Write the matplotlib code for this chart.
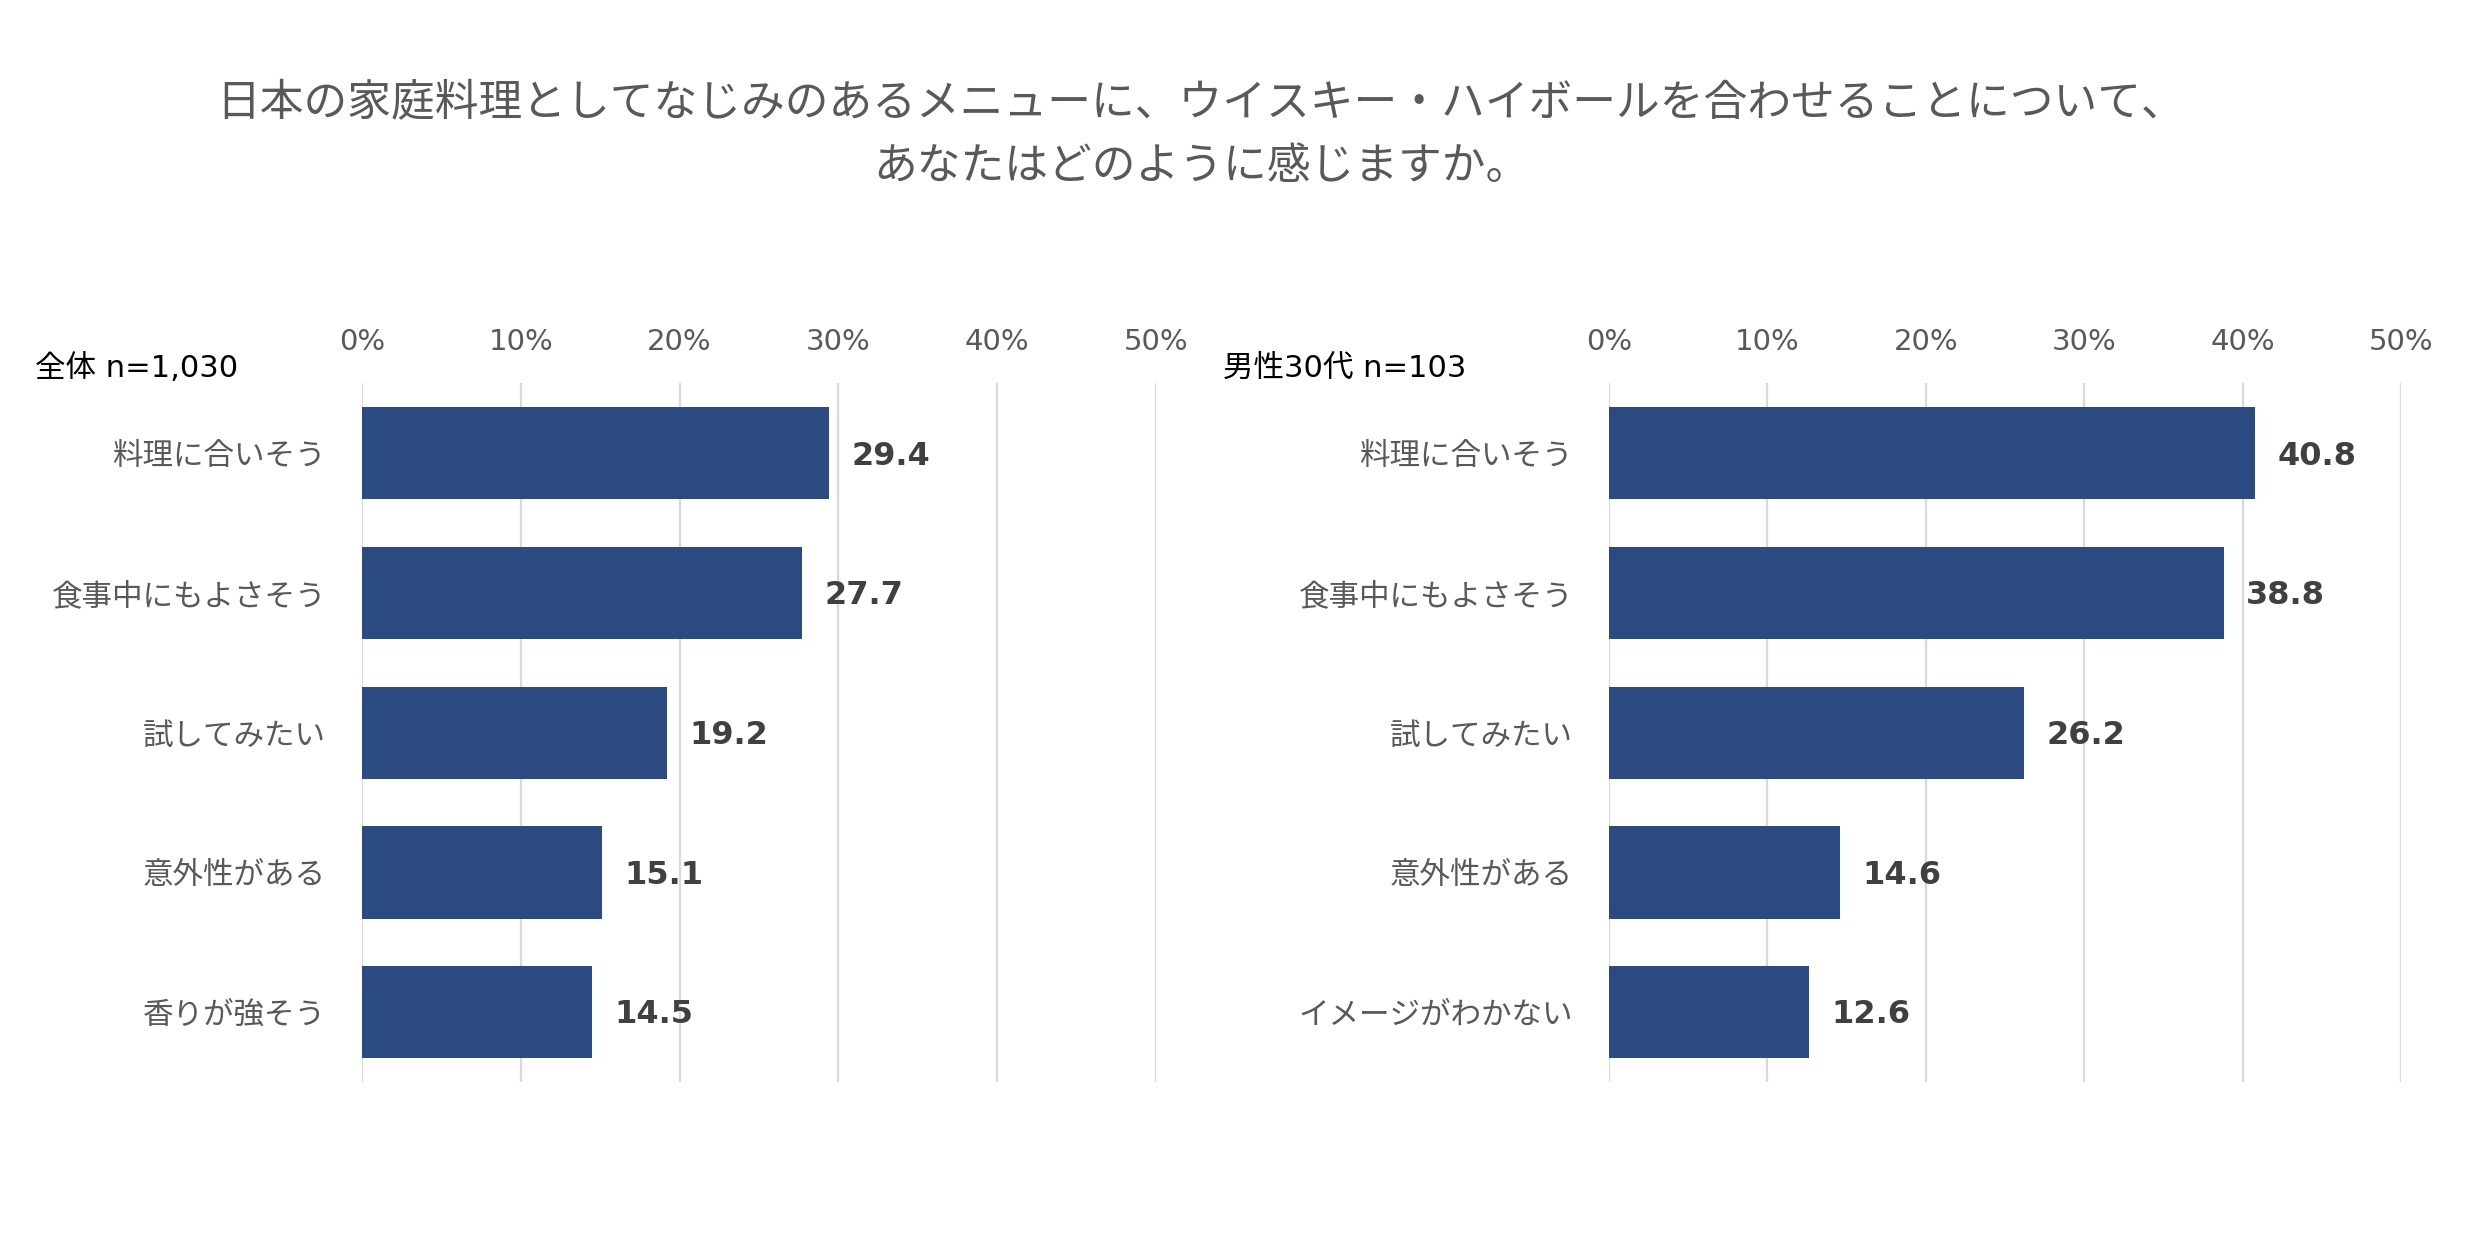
import matplotlib
matplotlib.use("Agg")
import matplotlib.pyplot as plt

plt.rcParams['font.family'] = ['Noto Sans CJK JP', 'DejaVu Sans']

# data
title = "日本の家庭料理としてなじみのあるメニューに、ウイスキー・ハイボールを合わせることについて、\nあなたはどのように感じますか。"

left_title = "全体 n=1,030"
left_cats = ["料理に合いそう", "食事中にもよさそう", "試してみたい", "意外性がある", "香りが強そう"]
left_vals = [29.4, 27.7, 19.2, 15.1, 14.5]

right_title = "男性30代 n=103"
right_cats = ["料理に合いそう", "食事中にもよさそう", "試してみたい", "意外性がある", "イメージがわかない"]
right_vals = [40.8, 38.8, 26.2, 14.6, 12.6]

xticks = [0, 10, 20, 30, 40, 50]
xticklabels = ["0%", "10%", "20%", "30%", "40%", "50%"]

bar_color = "#2B4A82"
text_grey = "#595959"
grid_grey = "#D9D9D9"

fig = plt.figure(figsize=(24.66, 12.52), dpi=100)

fig.text(0.487, 0.893, title, ha="center", va="center", fontsize=31.5,
         color=text_grey, linespacing=1.5)


def draw_panel(rect, cats, vals, panel_title, title_x):
    ax = fig.add_axes(rect)
    y = list(range(len(cats)))
    ax.barh(y, vals, height=0.66, color=bar_color, zorder=3)
    ax.set_xlim(0, 50)
    ax.set_ylim(len(cats) - 0.5, -0.5)
    ax.set_xticks(xticks)
    ax.set_xticklabels(xticklabels, family="DejaVu Sans", fontsize=21, color=text_grey)
    ax.xaxis.tick_top()
    ax.tick_params(axis="x", length=0, pad=20)
    ax.set_yticks(y)
    ax.set_yticklabels(cats, fontsize=22, color=text_grey)
    ax.tick_params(axis="y", length=0, pad=26)
    ax.grid(axis="x", color=grid_grey, linewidth=1.6, zorder=0)
    for s in ax.spines.values():
        s.set_visible(False)
    for yi, v in zip(y, vals):
        ax.annotate(f"{v:.1f}", (v, yi), xytext=(16, -2), textcoords="offset points",
                    ha="left", va="center", fontsize=23, fontweight="bold",
                    family="DejaVu Sans", color="#404040")
    fig.text(title_x, 1 - 368 / 1252, panel_title, ha="left", va="center",
             fontsize=22, color="black", family=["DejaVu Sans", "Noto Sans CJK JP"])
    return ax


draw_panel([0.1468, 0.1358, 0.322, 0.558], left_cats, left_vals, left_title, 35 / 2466)
draw_panel([0.6525, 0.1358, 0.3212, 0.558], right_cats, right_vals, right_title, 1223 / 2466)

fig.savefig("out.png", dpi=100, facecolor="white")
